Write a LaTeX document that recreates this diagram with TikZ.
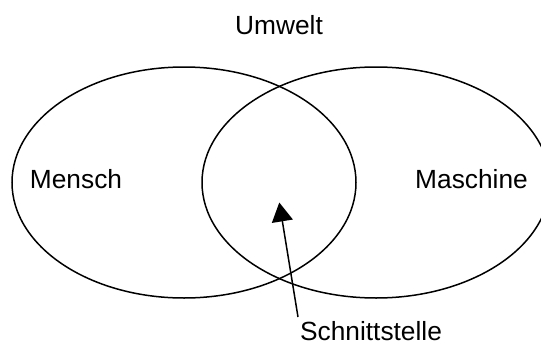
\documentclass[tikz,border=0pt]{standalone}
\usepackage{fontspec}
\setmainfont{Liberation Sans}
\usetikzlibrary{shapes.geometric,arrows.meta}
\begin{document}
\begin{tikzpicture}[x=1pt,y=-1pt,
  set/.style={draw,ellipse,line width=1.5pt,inner sep=0pt,outer sep=0pt},
  label/.style={anchor=base,inner sep=0pt,font=\fontsize{26.3}{30}\selectfont},
  pointer/.style={line width=1.5pt,-{Triangle[width=21pt,length=19pt]}}]
  \clip (0,0) rectangle (541,343);
  \useasboundingbox (0,0) rectangle (541,343);
  % the two overlapping sets
  \node[set,minimum width=344pt,minimum height=231pt] (mensch) at (184,182.5) {};
  \node[set,minimum width=348pt,minimum height=231pt] (maschine) at (376,182.5) {};
  % labels
  \node[label] (umwelt) at (279,34) {Umwelt};
  \node[label] (lmensch) at (76,188) {Mensch};
  \node[label] (lmaschine) at (471.5,188) {Maschine};
  \node[label,text depth=0pt] (schnitt) at (371,340) {Schnittstelle};
  % arrow into the overlap
  \coordinate (from) at (298,317);
  \coordinate (tip) at (279.3,202.5);
  \draw[pointer] (from) -- (tip);
\end{tikzpicture}
\end{document}
